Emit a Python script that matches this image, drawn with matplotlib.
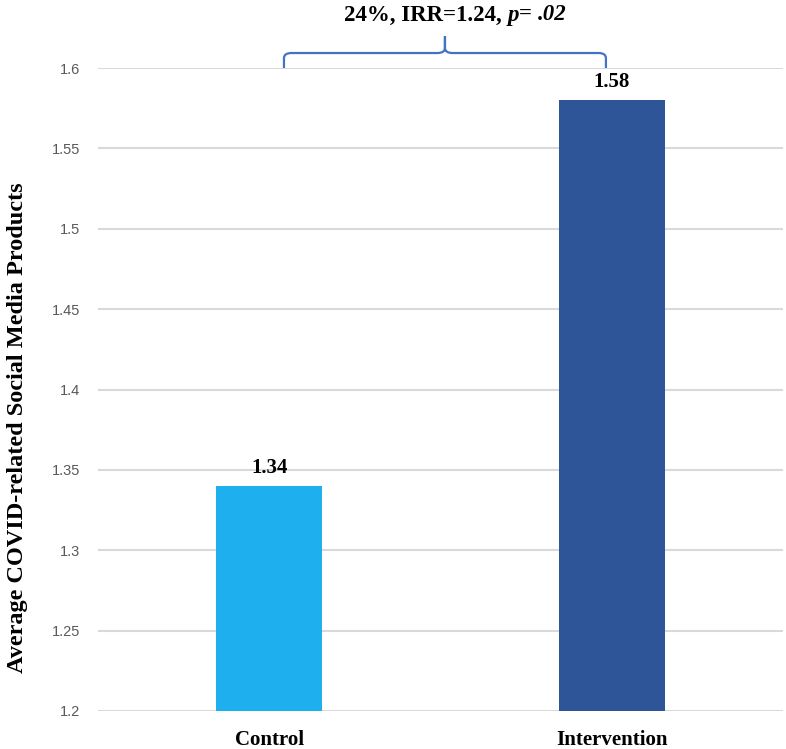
import matplotlib
matplotlib.use("Agg")
import matplotlib.pyplot as plt
from matplotlib.path import Path
from matplotlib.patches import PathPatch
from matplotlib.offsetbox import TextArea, HPacker, AnnotationBbox

categories = ["Control", "Intervention"]
values = [1.34, 1.58]
value_labels = ["1.34", "1.58"]
yticks = [1.2, 1.25, 1.3, 1.35, 1.4, 1.45, 1.5, 1.55, 1.6]
ytick_labels = ["1.2", "1.25", "1.3", "1.35", "1.4", "1.45", "1.5", "1.55", "1.6"]
colors = ["#1DAFEE", "#2E5597"]
ylabel = "Average COVID-related Social Media Products"
annot_parts = [("24%, IRR=1.24, ", "normal"), ("p", "italic"), ("= ", "normal"), (".02", "italic")]

fig = plt.figure(figsize=(7.86, 7.49), dpi=100)
ax = fig.add_axes([98/786, 1-711/749, 685/786, 643/749])

x = list(range(len(categories)))
bars = ax.bar(x, values, width=0.31, color=colors, zorder=3)
ax.set_xlim(-0.5, 1.5)
ax.set_ylim(1.2, 1.6)
ax.set_yticks(yticks)
ax.set_yticklabels(ytick_labels, fontfamily="Liberation Sans", fontsize=10.5, color="#595959")
ax.set_xticks(x)
ax.set_xticklabels(categories, fontfamily="Liberation Serif", fontweight="bold", fontsize=15)
ax.tick_params(axis="both", length=0)
ax.tick_params(axis="y", pad=13)
ax.tick_params(axis="x", pad=14)
for s in ax.spines.values():
    s.set_visible(False)
ax.grid(axis="y", color="#D9D9D9", linewidth=1.5, zorder=0)
ax.set_axisbelow(True)

for xi, v, lab in zip(x, values, value_labels):
    ax.annotate(lab, (xi, v), xytext=(0, 6), textcoords="offset points",
                ha="center", va="bottom", fontfamily="Liberation Serif",
                fontweight="bold", fontsize=15)

ax.set_ylabel(ylabel, fontfamily="Liberation Serif", fontweight="bold", fontsize=17.5)
ax.yaxis.set_label_coords(-0.102, 0.44)

# brace (x in data, y in axes fraction)
x0, x1 = 0.043, 0.983
xm = (x0 + x1) / 2
yb, yh, yt = 1.0, 1.0233, 1.0498
rx, ry = 0.022, 0.008
verts = [(x0, yb), (x0, yh - ry), (x0, yh), (x0 + rx, yh), (xm - rx, yh), (xm, yh), (xm, yh + ry), (xm, yt),
         (xm, yt), (xm, yh + ry), (xm, yh), (xm + rx, yh), (x1 - rx, yh), (x1, yh), (x1, yh - ry), (x1, yb)]
codes = [Path.MOVETO, Path.LINETO, Path.CURVE3, Path.CURVE3, Path.LINETO, Path.CURVE3, Path.CURVE3, Path.LINETO,
         Path.MOVETO, Path.LINETO, Path.CURVE3, Path.CURVE3, Path.LINETO, Path.CURVE3, Path.CURVE3, Path.LINETO]
brace = PathPatch(Path(verts, codes), transform=ax.get_xaxis_transform(), fill=False,
                  edgecolor="#4472C4", linewidth=1.6, clip_on=False, zorder=5)
ax.add_patch(brace)

areas = [TextArea(t, textprops=dict(fontfamily="Liberation Serif", fontweight="bold",
                                    fontstyle=st, fontsize=16.5, color="black"))
         for t, st in annot_parts]
pack = HPacker(children=areas, align="baseline", pad=0, sep=0)
ab = AnnotationBbox(pack, (0.542, 1.0 + 53/643), xycoords=ax.get_xaxis_transform(),
                    frameon=False, box_alignment=(0.5, 0.5), annotation_clip=False)
ax.add_artist(ab)

fig.savefig("out.png", dpi=100)
